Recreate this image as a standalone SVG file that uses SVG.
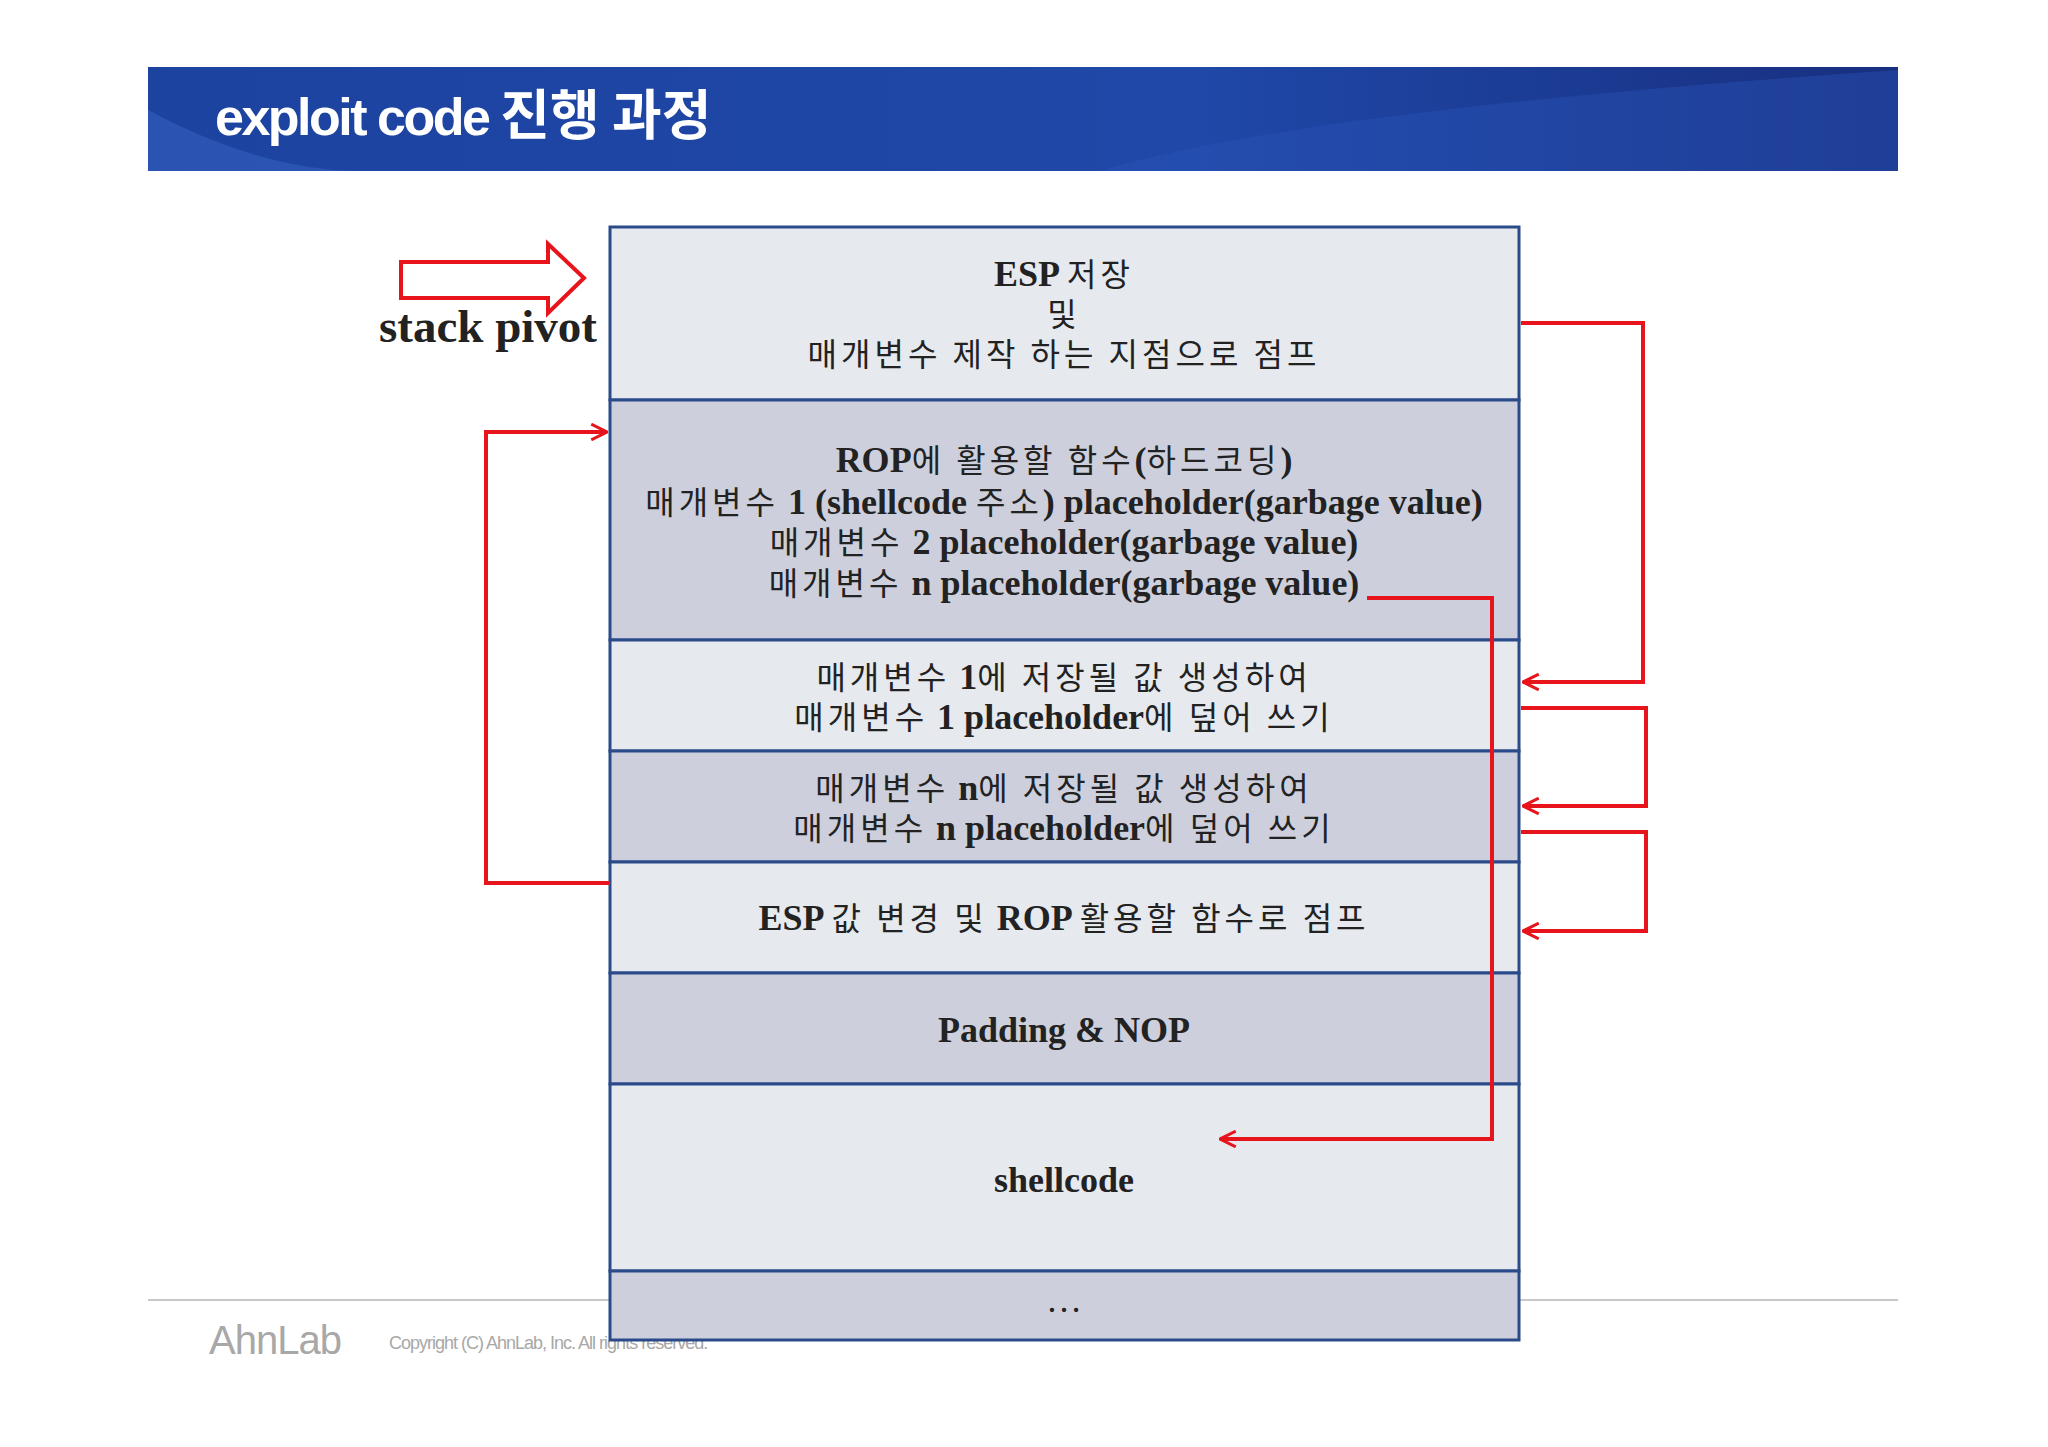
<svg xmlns="http://www.w3.org/2000/svg" width="2048" height="1447" viewBox="0 0 2048 1447">
<defs>
<linearGradient id="hg" x1="0" y1="0" x2="1" y2="0">
<stop offset="0" stop-color="#1d43a0"/><stop offset="0.6" stop-color="#1f48a8"/><stop offset="1" stop-color="#182f80"/>
</linearGradient>
<marker id="ah" viewBox="0 0 16 16" refX="15" refY="8" markerWidth="18" markerHeight="18" markerUnits="userSpaceOnUse" orient="auto">
<path d="M1,1 L15,8 L1,15" fill="none" stroke="#e8141b" stroke-width="2.6"/>
</marker>
<style>
.l{fill:#e6e9ee;stroke:#2a4a8a;stroke-width:3}
.d{fill:#cdd0dc;stroke:#2a4a8a;stroke-width:3}
.t{font-family:"Liberation Serif","Noto Sans CJK KR",serif;font-size:36px;fill:#222;text-anchor:middle}
.b{font-weight:bold}
.k{font-family:"Noto Sans CJK KR",sans-serif;font-weight:normal;font-size:32px;letter-spacing:4px}
.c{fill:none;stroke:#e8141b;stroke-width:4;marker-end:url(#ah)}
</style>
</defs>
<rect width="2048" height="1447" fill="#fff"/>
<g id="header">
<rect x="148" y="67" width="1750" height="104" fill="url(#hg)"/>
<path d="M148,110 Q260,170 360,171 L148,171Z" fill="#3a66c4" opacity="0.5"/>
<path d="M1100,171 Q1300,110 1898,70 L1898,171Z" fill="#2b56b8" opacity="0.4"/>
<text x="215" y="135" font-family="Liberation Sans,'Noto Sans CJK KR',sans-serif" font-weight="bold" font-size="52" fill="#fff" letter-spacing="-2.5">exploit code <tspan font-family="'Noto Sans CJK KR',sans-serif" font-size="54" letter-spacing="0">진행 과정</tspan></text>
</g>
<g id="footer">
<line x1="148" y1="1300" x2="1898" y2="1300" stroke="#c8c8c8" stroke-width="2"/>
<text x="209" y="1354" font-family="Liberation Sans,sans-serif" font-size="40" fill="#a8a8a8" letter-spacing="-1">AhnLab</text>
<text x="389" y="1349" font-family="Liberation Sans,sans-serif" font-size="18" fill="#a8a8a8" letter-spacing="-1">Copyright (C) AhnLab, Inc. All rights reserved.</text>
</g>
<g id="pivot">
<path d="M401,262 L548,262 L548,244 L584,278 L548,313 L548,298 L401,298Z" fill="#fff" stroke="#e8141b" stroke-width="4"/>
<text x="488" y="342" class="t b" style="font-size:47px">stack pivot</text>
</g>
<g id="row1"><rect class="l" x="610" y="227" width="909" height="173"/>
<text class="t" x="1064" y="286"><tspan class="b">ESP </tspan><tspan class="k">저장</tspan></text>
<text class="t" x="1064" y="326"><tspan class="k">및</tspan></text>
<text class="t" x="1064" y="366"><tspan class="k">매개변수 제작 하는 지점으로 점프</tspan></text></g>
<g id="row2"><rect class="d" x="610" y="400" width="909" height="240"/>
<text class="t" x="1064" y="472"><tspan class="b">ROP</tspan><tspan class="k">에 활용할 함수</tspan><tspan class="b">(</tspan><tspan class="k">하드코딩</tspan><tspan class="b">)</tspan></text>
<text class="t" x="1064" y="514"><tspan class="k">매개변수</tspan><tspan class="b"> 1 (shellcode </tspan><tspan class="k">주소</tspan><tspan class="b">) placeholder(garbage value)</tspan></text>
<text class="t" x="1064" y="554"><tspan class="k">매개변수</tspan><tspan class="b"> 2  placeholder(garbage value)</tspan></text>
<text class="t" x="1064" y="595"><tspan class="k">매개변수</tspan><tspan class="b"> n placeholder(garbage value)</tspan></text></g>
<g id="row3"><rect class="l" x="610" y="640" width="909" height="111"/>
<text class="t" x="1064" y="689"><tspan class="k">매개변수</tspan><tspan class="b"> 1</tspan><tspan class="k">에 저장될 값 생성하여</tspan></text>
<text class="t" x="1064" y="729"><tspan class="k">매개변수</tspan><tspan class="b"> 1 placeholder</tspan><tspan class="k">에 덮어 쓰기</tspan></text></g>
<g id="row4"><rect class="d" x="610" y="751" width="909" height="111"/>
<text class="t" x="1064" y="800"><tspan class="k">매개변수</tspan><tspan class="b"> n</tspan><tspan class="k">에 저장될 값 생성하여</tspan></text>
<text class="t" x="1064" y="840"><tspan class="k">매개변수</tspan><tspan class="b"> n placeholder</tspan><tspan class="k">에 덮어 쓰기</tspan></text></g>
<g id="row5"><rect class="l" x="610" y="862" width="909" height="111"/>
<text class="t" x="1064" y="930"><tspan class="b">ESP </tspan><tspan class="k">값 변경 및</tspan><tspan class="b"> ROP </tspan><tspan class="k">활용할 함수로 점프</tspan></text></g>
<g id="row6"><rect class="d" x="610" y="973" width="909" height="111"/>
<text class="t b" x="1064" y="1042">Padding &amp; NOP</text></g>
<g id="row7"><rect class="l" x="610" y="1084" width="909" height="187"/>
<text class="t b" x="1064" y="1192">shellcode</text></g>
<g id="row8"><rect class="d" x="610" y="1271" width="909" height="69"/>
<text class="t" x="1064" y="1312">…</text></g>
<g id="connectors">
<polyline class="c" points="1521,323 1643,323 1643,682 1523,682"/>
<polyline class="c" points="1521,708 1646,708 1646,806 1523,806"/>
<polyline class="c" points="1521,832 1646,832 1646,931 1523,931"/>
<polyline class="c" points="610,883 486,883 486,432 607,432"/>
<polyline class="c" points="1367,598 1492,598 1492,1139 1220,1139"/>
</g>
</svg>
